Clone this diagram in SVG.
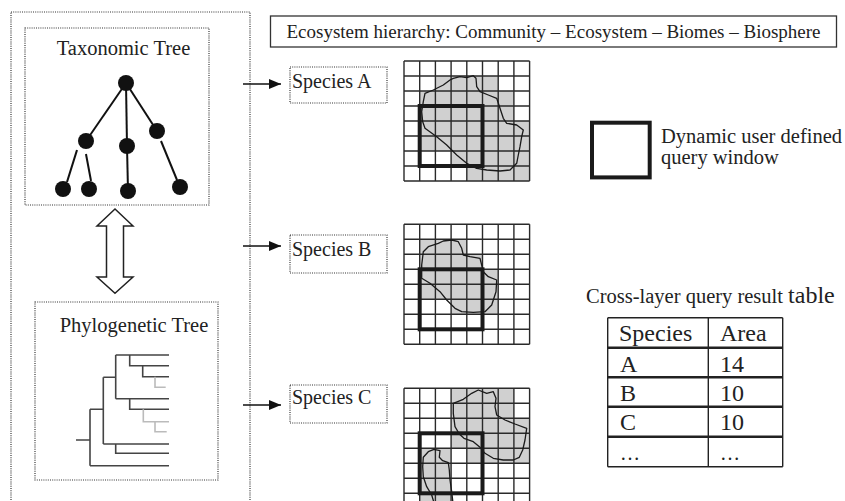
<svg xmlns="http://www.w3.org/2000/svg" width="845" height="501" viewBox="0 0 845 501">
<defs>
<style>
.t{font-family:"Liberation Serif","Times New Roman",serif;fill:#222}
.dot{fill:none;stroke:#333;stroke-width:1.2;stroke-dasharray:1 1.2}
.grid{fill:none;stroke:#2a2a2a;stroke-width:1.4}
.cell{fill:#d0d0d0}
.win{fill:none;stroke:#1a1a1a;stroke-width:4}
.blob{fill:none;stroke:#1a1a1a;stroke-width:1.3;stroke-linejoin:round}
.edge{stroke:#111;stroke-width:2}
.ph{fill:none;stroke:#444;stroke-width:1.6}
.phl{fill:none;stroke:#bbb;stroke-width:1.6}
.conn{stroke:#111;stroke-width:1.5;marker-end:url(#ah)}
</style>
<marker id="ah" markerWidth="12" markerHeight="10" refX="12" refY="5" orient="auto" markerUnits="userSpaceOnUse"><path d="M0 0L12 5L0 10Z" fill="#111"/></marker>
</defs>
<rect width="845" height="501" fill="#fff"/>

<g id="outer-box">
<rect class="dot" x="11" y="12" width="239" height="500"/>
</g>

<g id="node-taxonomic">
<rect class="dot" x="25" y="28" width="184" height="177"/>
<text class="t" x="123.5" y="55" font-size="20.5" text-anchor="middle">Taxonomic Tree</text>
<g class="edge">
<line x1="126" y1="83" x2="86" y2="141"/>
<line x1="126" y1="83" x2="127" y2="146"/>
<line x1="126" y1="83" x2="157" y2="131"/>
<line x1="77" y1="150" x2="67" y2="182"/>
<line x1="86" y1="154" x2="91" y2="181"/>
<line x1="127" y1="146" x2="128" y2="191"/>
<line x1="161" y1="141" x2="177" y2="180"/>
</g>
<g fill="#111">
<circle cx="126" cy="83" r="8"/>
<circle cx="86" cy="141" r="8"/>
<circle cx="127" cy="146" r="8"/>
<circle cx="157" cy="131" r="8"/>
<circle cx="63" cy="189" r="8"/>
<circle cx="89" cy="189" r="8"/>
<circle cx="128" cy="191" r="8"/>
<circle cx="180" cy="187" r="8"/>
</g>
</g>

<g id="node-phylogenetic">
<rect class="dot" x="35" y="302" width="183" height="178"/>
<text class="t" x="134" y="332" font-size="20.5" text-anchor="middle">Phylogenetic Tree</text>
<path class="ph" d="M76 440H90M90 409.3V465.7M90 409.3H103.3M90 465.7H169M103.3 377.3V444M103.3 377.3H115.7M103.3 444H169M115.7 444V453.3H169M115.7 355V398.7M115.7 355H169M115.7 398.7H169M129.7 355V365.7H169M142.7 365.7V376.7H169M129.7 398.7V409.3H169"/>
<path class="phl" d="M155 376.7V387.3H165.7M143.3 409.3V421.7H169M155 421.7V431.7H166.7"/>
</g>

<g id="node-title">
<rect x="270.5" y="16" width="566" height="31" fill="#fff" stroke="#333" stroke-width="1.3"/>
<text class="t" x="553.5" y="38" font-size="19" text-anchor="middle">Ecosystem hierarchy: Community – Ecosystem – Biomes – Biosphere</text>
</g>

<g id="node-speciesA">
<rect class="dot" x="290" y="67" width="97" height="36"/>
<text class="t" x="292" y="88" font-size="20">Species A</text>
</g>
<g id="node-speciesB">
<rect class="dot" x="290" y="235" width="97" height="38"/>
<text class="t" x="292" y="256" font-size="20">Species B</text>
</g>
<g id="node-speciesC">
<rect class="dot" x="290" y="385" width="97" height="38"/>
<text class="t" x="292" y="404" font-size="20">Species C</text>
</g>

<g id="node-gridA">
<g class="cell">
<rect x="435.4" y="76" width="62.8" height="15"/>
<rect x="419.7" y="91" width="94.2" height="30"/>
<rect x="419.7" y="121" width="109.9" height="30"/>
<rect x="451.1" y="151" width="78.5" height="15"/>
<rect x="466.8" y="166" width="62.8" height="15"/>
</g>
<path class="grid" d="M404 61V181M419.7 61V181M435.4 61V181M451.1 61V181M466.8 61V181M482.5 61V181M498.2 61V181M513.9 61V181M529.6 61V181M404 61H529.6M404 76H529.6M404 91H529.6M404 106H529.6M404 121H529.6M404 136H529.6M404 151H529.6M404 166H529.6M404 181H529.6"/>
<path class="blob" d="M450 80L443.3 85L433.3 90L425 93.3L423.3 101.7L421.7 111.7L422.7 121.7L425 128.3L436.7 136.7L446.7 145L456.7 155L466.7 163.3L476.7 168.3L486.7 170L500 171L510 170L516.7 163.3L518.3 155L520 146.7L521.7 136.7L523.3 130L516.7 125L506.7 123.3L503.3 118.3L500 108.3L496.7 98.3L488.3 95L480 91.7L476.7 86.7L476 78.3L473.3 75.7L466.7 77.7L460 76.7L453.3 78.3Z"/>
<rect class="win" x="419.7" y="106" width="62.8" height="60"/>
</g>

<g id="node-gridB">
<g class="cell">
<rect x="419.7" y="239.3" width="47.1" height="15"/>
<rect x="419.7" y="254.3" width="62.8" height="15"/>
<rect x="419.7" y="269.3" width="78.5" height="30"/>
<rect x="451.1" y="299.3" width="47.1" height="15"/>
</g>
<path class="grid" d="M404 224.3V344.3M419.7 224.3V344.3M435.4 224.3V344.3M451.1 224.3V344.3M466.8 224.3V344.3M482.5 224.3V344.3M498.2 224.3V344.3M513.9 224.3V344.3M529.6 224.3V344.3M404 224.3H529.6M404 239.3H529.6M404 254.3H529.6M404 269.3H529.6M404 284.3H529.6M404 299.3H529.6M404 314.3H529.6M404 329.3H529.6M404 344.3H529.6"/>
<path class="blob" d="M423.3 251.7L428.3 246.7L438.3 243.3L443.3 241L451.7 240L458.3 241.7L461.7 248.3L463.3 255L470 256.7L480 258.3L483.3 271.7L488.3 276.7L496.7 280L496 291.7L491.7 305L485 311.7L473.3 312.3L461.7 311.7L455 308.3L446.7 300L440 291.7L430 283.3L421.7 278.3L421.7 265Z"/>
<rect class="win" x="419.7" y="269.3" width="62.8" height="60"/>
</g>

<g id="node-gridC">
<g class="cell">
<rect x="451.1" y="388.3" width="62.8" height="30"/>
<rect x="451.1" y="418.3" width="78.5" height="30"/>
<rect x="466.8" y="448.3" width="62.8" height="15"/>
<rect x="419.7" y="448.3" width="31.4" height="60"/>
</g>
<path class="grid" d="M404 388.3V505M419.7 388.3V505M435.4 388.3V505M451.1 388.3V505M466.8 388.3V505M482.5 388.3V505M498.2 388.3V505M513.9 388.3V505M529.6 388.3V505M404 388.3H529.6M404 403.3H529.6M404 418.3H529.6M404 433.3H529.6M404 448.3H529.6M404 463.3H529.6M404 478.3H529.6M404 493.3H529.6"/>
<path class="blob" d="M453.3 403.3L463.3 399.3L471.7 393.3L478.3 390L486.7 393.3L493.3 391.7L496 398.3L495 406.7L496.7 415L505 420L515 424L526.7 428.3L525 440L522.7 450L519.3 457.3L513.3 460L503.3 460L493.3 458.3L485 453.3L480 447.3L473.3 441.7L464 438.3L459.3 434L455 426.7L453.3 413.3Z"/>
<path class="blob" d="M435 506L431.7 495L426.7 486.7L423.3 476.7L422.7 466.7L423.3 457.3L428.3 451.7L434 449.3L440 450.7L439.3 457.3L442.7 460.7L448.3 462.7L449.3 470L450 480L451.7 491.7L453.3 506"/>
<rect class="win" x="419.7" y="433.3" width="62.8" height="60"/>
</g>

<g id="node-legend">
<rect x="592" y="122.7" width="57.7" height="54.7" fill="#fff" stroke="#1a1a1a" stroke-width="4"/>
<text class="t" x="661" y="143" font-size="20.5">Dynamic user defined</text>
<text class="t" x="661" y="164" font-size="20.5">query window</text>
</g>

<g id="node-table">
<text class="t" x="586" y="303" font-size="20.5">Cross-layer query result <tspan font-size="24">table</tspan></text>
<g stroke="#222" fill="none">
<path stroke-width="1.4" d="M607.7 317.7V466.7M708.3 317.7V466.7M782.7 317.7V466.7M607.7 317.7H782.7M607.7 466.7H782.7"/>
<path stroke-width="2.4" d="M607.7 347.7H782.7M607.7 377.3H782.7M607.7 406.7H782.7M607.7 436.7H782.7"/>
</g>
<g class="t" font-size="24">
<text x="619" y="341">Species</text><text x="720" y="341">Area</text>
<text x="620" y="371.5">A</text><text x="720" y="371.5">14</text>
<text x="620" y="400.5">B</text><text x="720" y="400.5">10</text>
<text x="620" y="430">C</text><text x="720" y="430">10</text>
<text x="620" y="460" font-size="20">…</text><text x="720" y="460" font-size="20">…</text>
</g>
</g>

<g id="connectors">
<line class="conn" x1="243" y1="84" x2="281" y2="84"/>
<line class="conn" x1="243" y1="246" x2="281" y2="246"/>
<line class="conn" x1="243" y1="405" x2="281" y2="405"/>
<path d="M115 209L133 226H123.5V277H133L115 293.3L97 277H106.5V226H97Z" fill="#fff" stroke="#222" stroke-width="1.5" stroke-linejoin="miter"/>
</g>
</svg>
